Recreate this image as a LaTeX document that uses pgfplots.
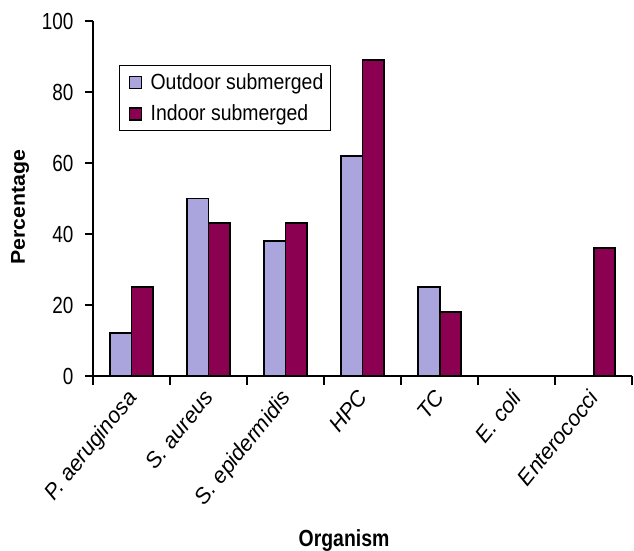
\documentclass[border=0pt]{standalone}
\usepackage{fontspec}
\setmainfont{Liberation Sans}
\usepackage{pgfplots}
\pgfplotsset{compat=1.18}
\definecolor{outdoor}{RGB}{170,165,220}
\definecolor{indoor}{RGB}{139,0,80}
\begin{document}
\begin{tikzpicture}
\begin{axis}[
    scale only axis,
    width=539bp, height=355bp,
    xmin=-0.5, xmax=6.5,
    ymin=0, ymax=100,
    axis x line=bottom, axis y line=left,
    axis line style={-, line width=1.8pt},
    ytick={0,20,...,100},
    xtick={0,...,6},
    xticklabels={P. aeruginosa, S. aureus, S. epidermidis, HPC, TC, E. coli, Enterococci},
    minor xtick={-0.5,0.5,...,6.5},
    major x tick style={draw=none},
    minor tick length=9bp,
    major tick length=8bp,
    tick style={line width=1.8pt, black},
    tick align=outside,
    xticklabel style={xshift=-6bp, yshift=-4bp, rotate=51, anchor=north east,
        font=\fontsize{22}{24}\selectfont\itshape, inner sep=0pt},
    yticklabel style={xshift=-8bp, yscale=1.23, font=\fontsize{19}{21}\selectfont},
    /pgf/number format/assume math mode=true,
    ylabel={\textbf{Percentage}},
    xlabel={\textbf{Organism}},
    ylabel style={at={(axis description cs:-0.1354,0.475)}, anchor=center, xscale=1.07,
        font=\fontsize{20}{22}\selectfont},
    xlabel style={at={(axis description cs:0.4657,-0.462)}, anchor=center, yscale=1.2,
        font=\fontsize{19.5}{22}\selectfont},
    ybar=0pt, bar width=0.28,
    legend style={at={(axis description cs:0.0482,0.876)}, anchor=north west, draw=black, line width=1.3pt,
        font=\fontsize{19.5}{22}\selectfont, row sep=10bp, inner xsep=5pt, inner ysep=6pt},
    legend cell align=left,
    legend image code/.code={
        \draw[#1, line width=1.6pt] (5bp,-6bp) rectangle (17bp,6bp);
        \path[draw=none, fill=none] (0bp,0bp) -- (24bp,0bp);},
]
\addplot[draw=black, line width=2pt, fill=outdoor, bar shift=-0.14] coordinates {
    (0,12) (1,50) (2,38) (3,62) (4,25) (5,0) (6,0)
};
\addlegendentry{\scalebox{1}[1.13]{Outdoor submerged}}
\addplot[draw=black, line width=2pt, fill=indoor, bar shift=0.14] coordinates {
    (0,25) (1,43) (2,43) (3,89) (4,18) (5,0) (6,36)
};
\addlegendentry{\scalebox{1}[1.13]{Indoor submerged}}
\end{axis}
\pgfresetboundingbox
\useasboundingbox ([xshift=-93bp,yshift=-174bp]current axis.south west) rectangle ([xshift=2bp,yshift=21bp]current axis.north east);
\end{tikzpicture}
\end{document}
